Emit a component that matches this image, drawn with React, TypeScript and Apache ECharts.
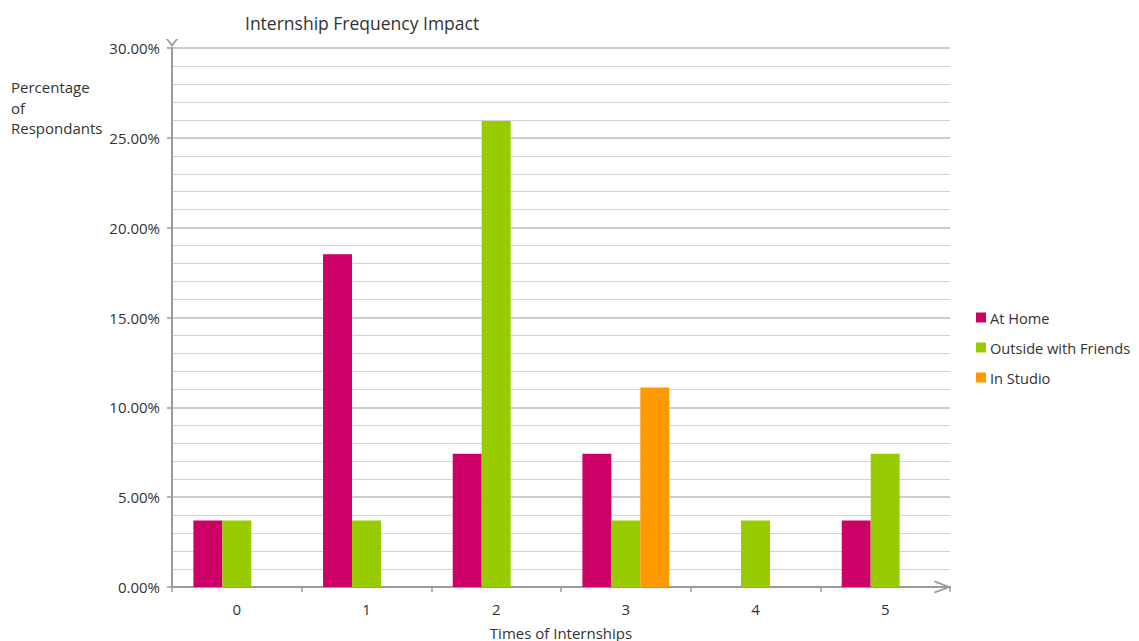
import React, { useEffect, useRef } from "react";
import * as echarts from "echarts";

const categories = ["0", "1", "2", "3", "4", "5"];
const atHome = [3.7, 18.52, 7.41, 7.41, 0, 3.7];
const outsideWithFriends = [3.7, 3.7, 25.93, 3.7, 3.7, 7.41];
const inStudio = [0, 0, 0, 11.11, 0, 0];
const seriesNames = ["At Home", "Outside with Friends", "In Studio"];
const seriesColors = ["#CC0066", "#99CC00", "#FF9900"];
const titleText = "Internship Frequency Impact";
const yAxisName = "Percentage\nof\nRespondants";
const xAxisName = "Times of Internships";

const FONT = "'Open Sans', 'Liberation Sans', sans-serif";

export default function App() {
  const ref = useRef<HTMLDivElement>(null);
  useEffect(() => {
    if (!ref.current) return;
    const chart = echarts.init(ref.current, undefined, { renderer: "svg" });
    const values = [atHome, outsideWithFriends, inStudio];
    chart.setOption({
      animation: false,
      backgroundColor: "#ffffff",
      textStyle: { fontFamily: FONT, color: "#333" },
      title: {
        text: titleText,
        left: 240,
        top: 9,
        textStyle: { fontFamily: FONT, fontSize: 17.5, fontWeight: "normal", color: "#333" },
      },
      legend: {
        orient: "vertical",
        left: 971,
        top: 305,
        itemWidth: 10,
        itemHeight: 10,
        itemGap: 15,
        icon: "rect",
        data: seriesNames,
        textStyle: { fontFamily: FONT, fontSize: 14.6, color: "#333", padding: [0, 0, 0, -1] },
      },
      grid: {
        left: 172,
        right: 189,
        top: 48,
        bottom: 54,
        containLabel: false,
        outerBoundsMode: "none",
      },
      xAxis: {
        type: "category",
        data: categories,
        boundaryGap: true,
        name: xAxisName,
        nameLocation: "middle",
        nameGap: 38,
        nameTextStyle: { fontFamily: FONT, fontSize: 15, color: "#333" },
        axisLine: {
          show: true,
          lineStyle: { color: "#9a9a9a", width: 2 },
          symbol: ["none", "path://M0,17 L6.5,0 L13,17 L11,17 L6.5,4.5 L2,17 Z"],
          symbolSize: [13, 17],
          symbolOffset: [0, -7],
        },
        axisTick: { show: true, alignWithLabel: false, length: 5, lineStyle: { color: "#9a9a9a", width: 1.5 } },
        axisLabel: { fontFamily: FONT, fontSize: 15, color: "#333", margin: 14 },
        splitLine: { show: false },
      },
      yAxis: {
        type: "value",
        min: 0,
        max: 30,
        interval: 5,
        axisLine: {
          show: true,
          lineStyle: { color: "#9a9a9a", width: 2 },
          symbol: ["none", "path://M0,0 L6,8 L12,0 L10,0 L6,5 L2,0 Z"],
          symbolSize: [12, 8],
          symbolOffset: [0, 5],
        },
        axisTick: { show: true, length: 5, lineStyle: { color: "#9a9a9a", width: 1.5 } },
        axisLabel: {
          fontFamily: FONT,
          fontSize: 15,
          color: "#333",
          margin: 12,
          formatter: (v: number) => v.toFixed(2) + "%",
        },
        splitLine: { show: true, lineStyle: { color: "#bdbdbd", width: 1.5 } },
        minorTick: { show: false, splitNumber: 5 },
        minorSplitLine: { show: true, lineStyle: { color: "#d3d3d3", width: 1.2 } },
      },
      series: seriesNames.map((name, i) => ({
        name,
        type: "bar",
        data: values[i],
        barGap: "0%",
        barCategoryGap: "33%",
        itemStyle: { color: seriesColors[i] },
      })),
      graphic: [
        {
          type: "text",
          left: 11,
          top: 77,
          style: {
            text: yAxisName,
            fontFamily: FONT,
            fontSize: 15,
            lineHeight: 20.5,
            fill: "#333",
          },
        },
      ],
    });
    return () => chart.dispose();
  }, []);
  return (
    <div
      ref={ref}
      style={{ position: "fixed", left: 0, top: 0, width: 1139, height: 641 }}
    />
  );
}
